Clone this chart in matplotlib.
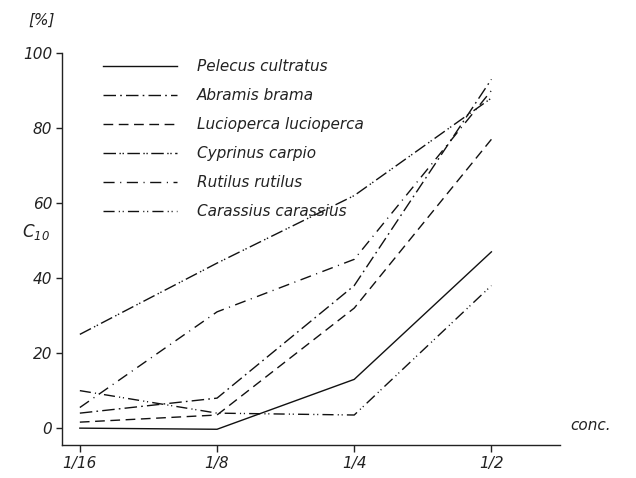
import matplotlib
matplotlib.use("Agg")
import matplotlib.pyplot as plt

# concentrations on the x axis and C10 (%) for each species
concs = ["1/16", "1/8", "1/4", "1/2"]
pelecus = [0, -0.3, 13, 47]
abramis = [4, 8, 38, 93]
lucioperca = [1.6, 3.5, 32, 77]
cyprinus = [25, 44, 62, 88]
rutilus = [5.5, 31, 45, 90]
carassius = [10, 4, 3.5, 38]

species = [
    ("Pelecus cultratus", pelecus, "-"),
    ("Abramis brama", abramis, (0, (9, 3, 1.2, 3))),
    ("Lucioperca lucioperca", lucioperca, (0, (7, 4))),
    ("Cyprinus carpio", cyprinus, (0, (9, 2.5, 1, 1.2, 1, 2.5))),
    ("Rutilus rutilus", rutilus, (0, (8, 4, 0.8, 4))),
    ("Carassius carassius", carassius, (0, (8, 3, 0.8, 2, 0.8, 3))),
]

plt.rcParams["font.family"] = ["DejaVu Sans"]
plt.rcParams["font.style"] = "italic"
ink = "#222222"

fig = plt.figure(figsize=(6.36, 4.78), dpi=100)
ax = fig.add_axes([0.0975, 0.069, 0.783, 0.82])

xs = list(range(len(concs)))
for name, values, style in species:
    ax.plot(xs, values, color="#111111", lw=1.0, linestyle=style, label=name)

ax.set_xlim(-0.13, 3.5)
ax.set_ylim(-4.5, 100)
ax.set_xticks(xs)
ax.set_xticklabels(concs)
ax.set_yticks([0, 20, 40, 60, 80, 100])

for side in ("top", "right"):
    ax.spines[side].set_visible(False)
for side in ("left", "bottom"):
    ax.spines[side].set_linewidth(1.0)
    ax.spines[side].set_color(ink)

ax.tick_params(axis="y", direction="out", length=4, width=1, pad=3,
               labelsize=11, colors=ink)
ax.tick_params(axis="x", direction="out", length=5, width=1, pad=3,
               labelsize=11, colors=ink)

leg = ax.legend(loc="upper left", bbox_to_anchor=(103 / 636, 1 - 59 / 478),
                bbox_transform=fig.transFigure, frameon=False, fontsize=11,
                handlelength=4.85, handletextpad=1.3, labelspacing=0.92,
                borderpad=0, borderaxespad=0)
for t in leg.get_texts():
    t.set_color(ink)

fig.text(28 / 636, 1 - 20 / 478, "[%]", fontsize=11, color=ink,
         ha="left", va="center")
fig.text(22 / 636, 1 - 232 / 478, r"$\mathit{C}_{\mathit{10}}$", fontsize=12,
         color=ink, ha="left", va="center")
fig.text(570 / 636, 1 - 425 / 478, "conc.", fontsize=11, color=ink,
         ha="left", va="center")

fig.savefig("out.png", dpi=100)
